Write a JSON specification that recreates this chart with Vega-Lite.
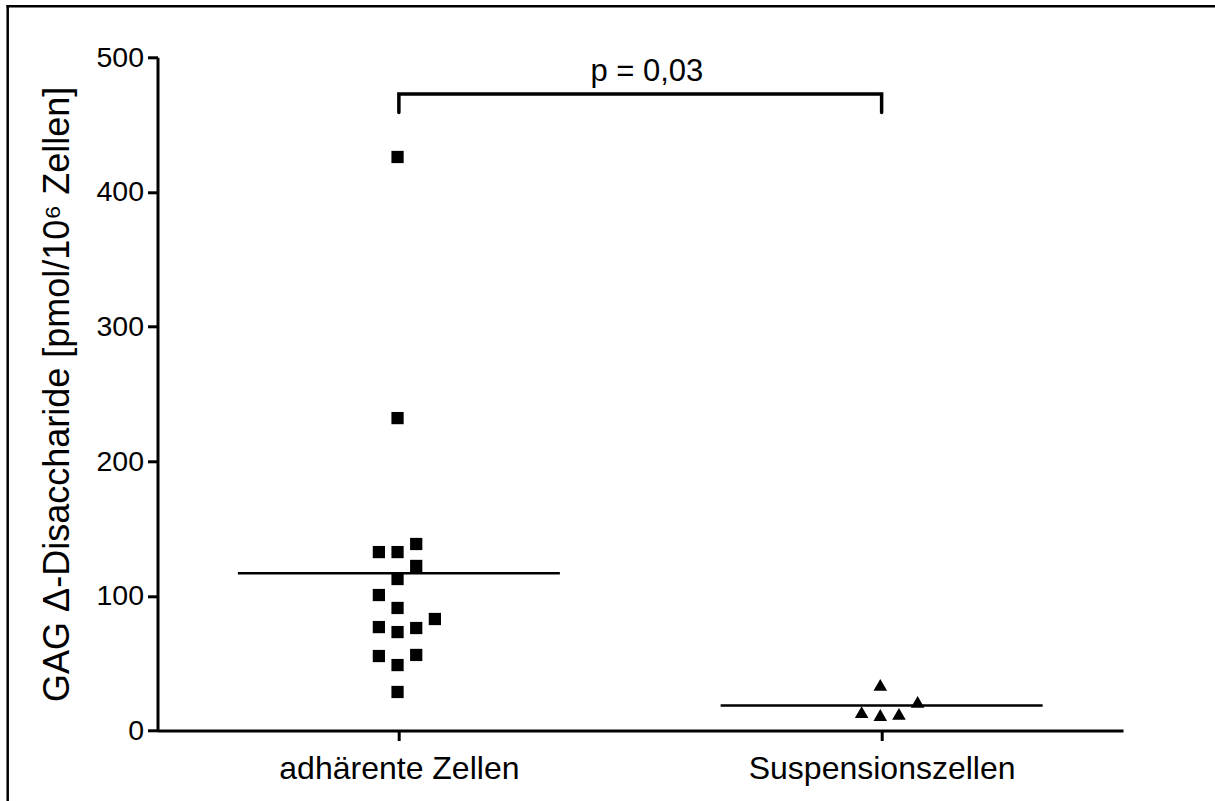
{
  "$schema": "https://vega.github.io/schema/vega-lite/v6.json",
  "width": 1207.3,
  "height": 794.7,
  "autosize": {"type": "none"},
  "padding": {"left": 7.7, "top": 6.3, "right": 0, "bottom": 0},
  "background": "white",
  "config": {
    "view": {"stroke": null},
    "font": "Liberation Sans",
    "axis": {
      "grid": false,
      "domainColor": "black",
      "domainWidth": 3,
      "tickColor": "black",
      "tickWidth": 3,
      "tickSize": 10,
      "labelColor": "black",
      "labelFont": "Liberation Sans",
      "titleFont": "Liberation Sans",
      "titleColor": "black",
      "titleFontWeight": "normal",
      "labelLimit": 0
    }
  },
  "datasets": {
    "cells": [
      {"group": "adhärente Zellen", "col": -1, "value": 132.5},
      {"group": "adhärente Zellen", "col": 0, "value": 132.5},
      {"group": "adhärente Zellen", "col": 1, "value": 138.5},
      {"group": "adhärente Zellen", "col": 1, "value": 122.2},
      {"group": "adhärente Zellen", "col": 0, "value": 112.5},
      {"group": "adhärente Zellen", "col": -1, "value": 100.6},
      {"group": "adhärente Zellen", "col": 0, "value": 91.0},
      {"group": "adhärente Zellen", "col": 2, "value": 82.8},
      {"group": "adhärente Zellen", "col": -1, "value": 76.8},
      {"group": "adhärente Zellen", "col": 0, "value": 73.1},
      {"group": "adhärente Zellen", "col": 1, "value": 76.1},
      {"group": "adhärente Zellen", "col": -1, "value": 55.3},
      {"group": "adhärente Zellen", "col": 1, "value": 56.1},
      {"group": "adhärente Zellen", "col": 0, "value": 48.6},
      {"group": "adhärente Zellen", "col": 0, "value": 28.6},
      {"group": "adhärente Zellen", "col": 0, "value": 232.0},
      {"group": "adhärente Zellen", "col": 0, "value": 425.9},
      {"group": "Suspensionszellen", "col": 0, "value": 33.8},
      {"group": "Suspensionszellen", "col": -1, "value": 13.7},
      {"group": "Suspensionszellen", "col": 0, "value": 11.5},
      {"group": "Suspensionszellen", "col": 1, "value": 12.3},
      {"group": "Suspensionszellen", "col": 2, "value": 21.2}
    ],
    "bracket": [
      {"group": "adhärente Zellen", "ord": 1, "value": 459},
      {"group": "adhärente Zellen", "ord": 2, "value": 472.6},
      {"group": "Suspensionszellen", "ord": 3, "value": 472.6},
      {"group": "Suspensionszellen", "ord": 4, "value": 459}
    ],
    "annotation": [
      {"from": "adhärente Zellen", "between": 0.5, "value": 482, "label": "p = 0,03"}
    ],
    "frame": [
      {"edge": 0}
    ]
  },
  "layer": [
    {
      "encoding": {
        "x": {
          "field": "group",
          "type": "nominal",
          "sort": ["adhärente Zellen", "Suspensionszellen"],
          "scale": {"type": "point", "padding": 0.5, "align": 0.5, "range": [149.8, 1115.3], "domain": ["adhärente Zellen", "Suspensionszellen"]},
          "axis": {"title": null, "labelAngle": 0, "labelFontSize": 32, "labelPadding": 13, "offset": -70.5, "orient": "bottom"}
        },
        "y": {
          "field": "value",
          "type": "quantitative",
          "scale": {"domain": [0, 500], "range": [724.2, 50.9], "nice": false, "zero": true},
          "axis": {
            "orient": "left",
            "values": [0, 100, 200, 300, 400, 500],
            "labelFontSize": 28.5,
            "labelPadding": 4,
            "title": "GAG Δ-Disaccharide [pmol/10⁶ Zellen]",
            "titleFontSize": 36,
            "titlePadding": 19,
            "offset": -149.8
          }
        }
      },
      "layer": [
        {
          "data": {"name": "cells"},
          "mark": {"type": "point", "filled": true, "opacity": 1, "color": "black"},
          "encoding": {
            "xOffset": {"field": "col", "type": "quantitative", "scale": {"domain": [-1, 2], "range": [-20, 36]}},
            "shape": {"field": "group", "type": "nominal", "scale": {"domain": ["adhärente Zellen", "Suspensionszellen"], "range": ["square", "triangle-up"]}, "legend": null},
            "size": {"field": "group", "type": "nominal", "scale": {"domain": ["adhärente Zellen", "Suspensionszellen"], "range": [150, 185]}, "legend": null}
          }
        },
        {
          "data": {"name": "cells"},
          "mark": {"type": "tick", "color": "black", "size": 322, "thickness": 2.5, "orient": "horizontal", "opacity": 1},
          "encoding": {
            "y": {"aggregate": "mean", "field": "value", "type": "quantitative"}
          }
        },
        {
          "data": {"name": "bracket"},
          "mark": {"type": "line", "color": "black", "strokeWidth": 3.5, "strokeCap": "round"},
          "encoding": {
            "order": {"field": "ord", "type": "quantitative"}
          }
        },
        {
          "data": {"name": "annotation"},
          "mark": {"type": "text", "fontSize": 31, "color": "black", "baseline": "alphabetic", "align": "center"},
          "encoding": {
            "x": {"field": "from", "type": "nominal"},
            "xOffset": {"field": "between", "type": "quantitative", "scale": {"domain": [0, 1], "range": [0, 496]}},
            "text": {"field": "label"}
          }
        }
      ],
      "resolve": {"scale": {"xOffset": "independent"}}
    },
    {
      "data": {"name": "frame"},
      "layer": [
        {
          "mark": {"type": "rule", "color": "black", "strokeWidth": 2.5, "strokeCap": "square"},
          "encoding": {
            "y": {"field": "edge", "type": "quantitative", "scale": {"domain": [0, 1], "range": [0, 794.7]}, "axis": null}
          }
        },
        {
          "mark": {"type": "rule", "color": "black", "strokeWidth": 2.5, "strokeCap": "square"},
          "encoding": {
            "x": {"field": "edge", "type": "quantitative", "scale": {"domain": [0, 1], "range": [0, 1207.3]}, "axis": null}
          }
        }
      ]
    }
  ],
  "resolve": {"scale": {"x": "independent", "y": "independent"}, "axis": {"x": "independent", "y": "independent"}}
}
